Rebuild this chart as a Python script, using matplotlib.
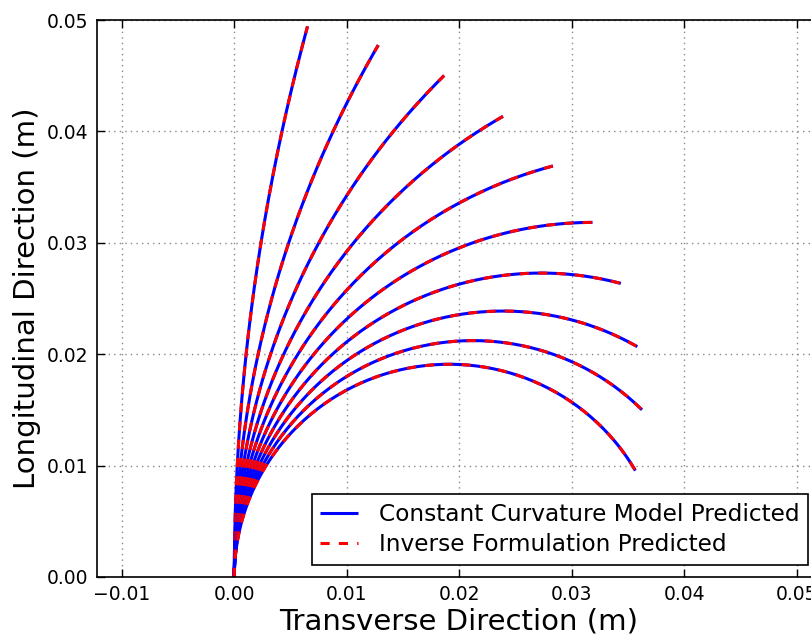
import numpy as np
import matplotlib
matplotlib.use("Agg")
import matplotlib.pyplot as plt

# Data: bending angle at the tip (degrees) for each constant-curvature arc
bend_angles_deg = [15, 30, 45, 60, 75, 90, 105, 120, 135, 150]
arc_length = 0.05  # m
x_ticks = [-0.01, 0.00, 0.01, 0.02, 0.03, 0.04, 0.05]
y_ticks = [0.00, 0.01, 0.02, 0.03, 0.04, 0.05]
labels = ["Constant Curvature Model Predicted", "Inverse Formulation Predicted"]

fig = plt.figure(figsize=(8.12, 6.34), dpi=100)
ax = fig.add_axes([97/812, 57/634, (819.5-97)/812, 557/634])

s = np.linspace(0, arc_length, 200)
for i, ang in enumerate(bend_angles_deg):
    kappa = np.deg2rad(ang) / arc_length
    x = (1 - np.cos(kappa * s)) / kappa
    y = np.sin(kappa * s) / kappa
    ax.plot(x, y, color='blue', lw=2.2, solid_capstyle='butt',
            label=labels[0] if i == 0 else None)
    ax.plot(x, y, color='red', lw=2.2, linestyle=(0, (3.0, 3.0)),
            dash_capstyle='butt',
            label=labels[1] if i == 0 else None)

ax.set_xlim(-0.0122, 0.052)
ax.set_ylim(0, 0.05)
ax.set_xticks(x_ticks)
ax.set_yticks(y_ticks)
ax.set_xticklabels(["\u22120.01", "0.00", "0.01", "0.02", "0.03", "0.04", "0.05"])
ax.set_yticklabels(["0.00", "0.01", "0.02", "0.03", "0.04", "0.05"])
ax.tick_params(direction='in', top=True, right=True, labelsize=13.5,
               length=6, width=1, pad=6)
ax.grid(True, color='#888888', linestyle=(0, (1, 3)), linewidth=1)
for sp in ax.spines.values():
    sp.set_linewidth(1.2)

ax.set_xlabel("Transverse Direction (m)", fontsize=21, labelpad=2)
ax.set_ylabel("Longitudinal Direction (m)", fontsize=21, labelpad=4)

leg = ax.legend(loc='lower right', bbox_to_anchor=(808/812, 69/634),
                bbox_transform=fig.transFigure, fontsize=16.75, fancybox=False,
                framealpha=1, edgecolor='black', handlelength=1.6,
                handletextpad=0.9, borderpad=0.38, labelspacing=0.3,
                borderaxespad=0)
leg.get_frame().set_linewidth(1.2)

fig.savefig("out.png", dpi=100)
